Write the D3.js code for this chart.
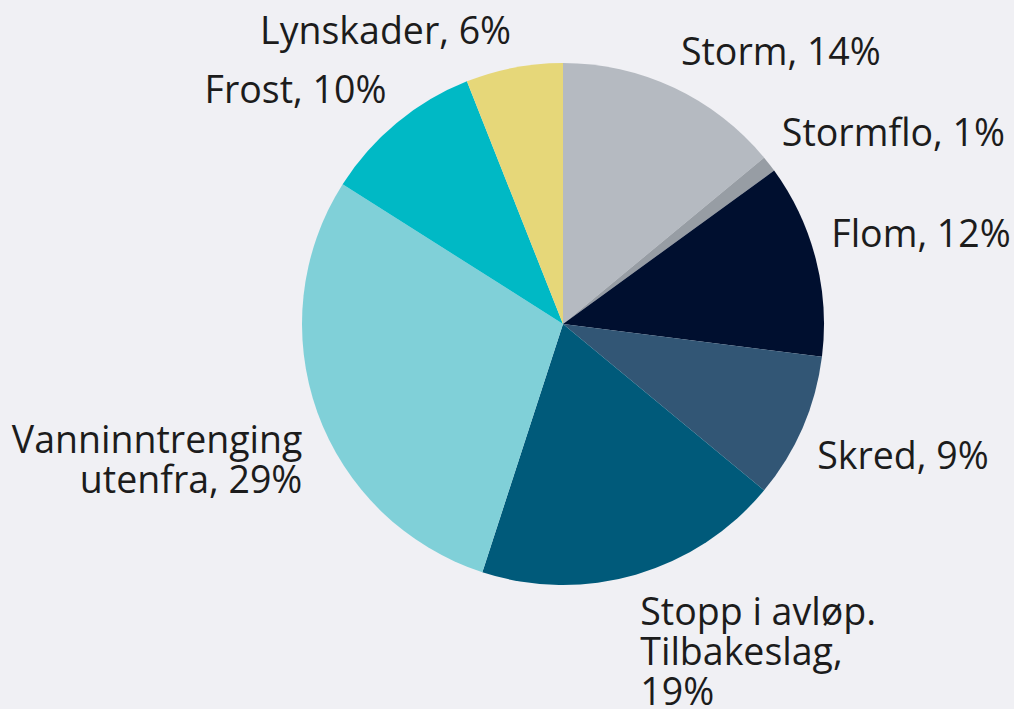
<!DOCTYPE html>
<html>
<head>
<meta charset="utf-8">
<script src="https://cdn.jsdelivr.net/npm/d3@7"></script>
<style>
  html, body { margin: 0; padding: 0; background: #f0f0f4; }
  .sliceLabel { font-family: "Open Sans", sans-serif; font-size: 37.5px; fill: #1c1c1c; }
</style>
</head>
<body>
<div id="pie"></div>
<script>
// Data
var categories = ["Storm", "Stormflo", "Flom", "Skred", "Stopp i avløp. Tilbakeslag", "Vanninntrenging utenfra", "Frost", "Lynskader"];
var shares = [14, 1, 12, 9, 19, 29, 10, 6];
var labelLines = [
  ["Storm, 14%"],
  ["Stormflo, 1%"],
  ["Flom, 12%"],
  ["Skred, 9%"],
  ["Stopp i avløp.", "Tilbakeslag,", "19%"],
  ["Vanninntrenging", "utenfra, 29%"],
  ["Frost, 10%"],
  ["Lynskader, 6%"]
];
var colors = ["#b5bac1", "#979da4", "#000f2f", "#325675", "#005a7a", "#80d0d8", "#00b9c5", "#e6d779"];

var width = 1014;
var height = 709;
var cx = 563;
var cy = 324;
var radius = 261;
var labelRadius = 277;
var lineHeight = 40;
var boxTop = 35;    // first baseline below the top of the label box
var boxBottom = 8;  // bottom of the label box below the last baseline

var svg = d3.select("#pie")
  .append("svg")
  .attr("width", width)
  .attr("height", height);

var data = categories.map(function(c, i) {
  return { name: c, value: shares[i], lines: labelLines[i], color: colors[i] };
});

var pie = d3.pie()
  .sort(null)
  .value(function(d) { return d.value; });

var arc = d3.arc().innerRadius(0).outerRadius(radius);
var labelArc = d3.arc().innerRadius(labelRadius).outerRadius(labelRadius);

var g = svg.append("g").attr("transform", "translate(" + cx + "," + cy + ")");

var arcs = pie(data);

g.selectAll("path.slice")
  .data(arcs)
  .enter()
  .append("path")
  .attr("class", "slice")
  .attr("d", arc)
  .attr("fill", function(d) { return d.data.color; });

// labels: the box corner nearest the pie sits on the label arc
var labels = g.selectAll("text.sliceLabel")
  .data(arcs)
  .enter()
  .append("text")
  .attr("class", "sliceLabel")
  .attr("text-anchor", function(d) {
    var mid = (d.startAngle + d.endAngle) / 2;
    return mid < Math.PI ? "start" : "end";
  })
  .attr("transform", function(d) {
    var mid = (d.startAngle + d.endAngle) / 2;
    var p = labelArc.centroid(d);
    var n = d.data.lines.length;
    var firstBase;
    if (Math.cos(mid) >= 0) {
      // upper half: box bottom on the point
      firstBase = p[1] - boxBottom - (n - 1) * lineHeight;
    } else {
      // lower half: box top on the point
      firstBase = p[1] + boxTop;
    }
    return "translate(" + p[0] + "," + firstBase + ")";
  });

labels.selectAll("tspan")
  .data(function(d) { return d.data.lines; })
  .enter()
  .append("tspan")
  .attr("x", 0)
  .attr("dy", function(d, i) { return i === 0 ? 0 : lineHeight; })
  .text(function(d) { return d; });
</script>
</body>
</html>
